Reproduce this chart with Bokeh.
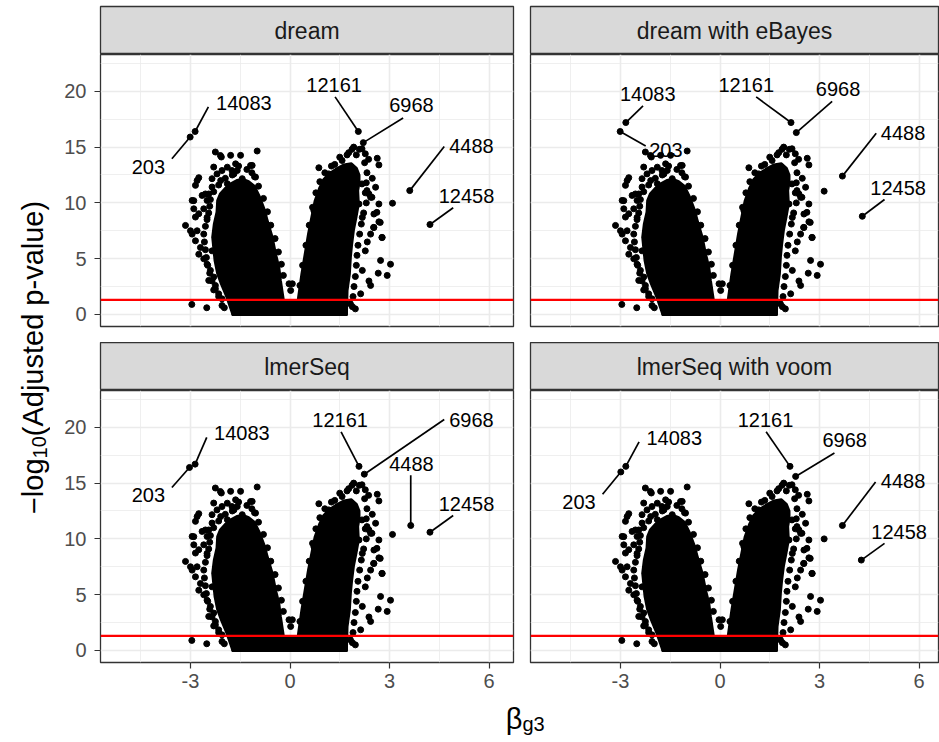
from bokeh.plotting import figure
from bokeh.layouts import row, column
from bokeh.models import Range1d, FixedTicker, Span
from bokeh.core.properties import value
from bokeh.embed import file_html
from bokeh.resources import INLINE

FONT = "Liberation Sans"

# ---------------- data ----------------
panel_names = ["dream", "dream with eBayes", "lmerSeq", "lmerSeq with voom"]
gene_ids = ["203", "14083", "12161", "6968", "4488", "12458"]

# labelled genes per method: effect (beta_g3) and -log10(adj p)
dream_beta = [-3.01, -2.86, 2.06, 2.21, 3.61, 4.22]
dream_logp = [15.9, 16.4, 16.4, 15.4, 11.1, 8.06]
ebayes_beta = [-3.01, -2.84, 2.14, 2.30, 3.69, 4.29]
ebayes_logp = [16.4, 17.2, 17.2, 16.3, 12.4, 8.8]
lmer_beta = [-3.03, -2.86, 2.08, 2.24, 3.64, 4.22]
lmer_logp = [16.4, 16.7, 16.5, 15.8, 11.2, 10.6]
voom_beta = [-2.99, -2.84, 2.11, 2.28, 3.69, 4.26]
voom_logp = [16.0, 16.5, 16.5, 15.6, 11.2, 8.1]

# repelled label positions (data units) and segment ends
dream_lab_x = [-4.27, -1.39, 1.33, 3.66, 5.47, 5.32]
dream_lab_y = [13.2, 18.93, 20.6, 18.8, 15.1, 10.66]
dream_seg_x = [-3.56, -2.46, 1.36, 3.41, 4.65, 4.92]
dream_seg_y = [13.95, 18.6, 19.5, 17.6, 15.05, 9.56]
ebayes_lab_x = [-1.63, -2.18, 0.79, 3.56, 5.52, 5.37]
ebayes_lab_y = [14.7, 19.8, 20.6, 20.2, 16.25, 11.35]
ebayes_seg_x = [-2.24, -2.32, 1.09, 3.38, 4.71, 4.96]
ebayes_seg_y = [15.1, 18.7, 19.5, 19.1, 16.25, 10.3]
lmer_lab_x = [-4.27, -1.45, 1.51, 5.47, 3.66, 5.32]
lmer_lab_y = [13.9, 19.5, 20.7, 20.7, 16.7, 13.1]
lmer_seg_x = [-3.56, -2.51, 1.54, 4.65, 3.64, 4.92]
lmer_seg_y = [14.6, 19.1, 19.6, 20.7, 15.7, 12.1]
voom_lab_x = [-4.25, -1.38, 1.37, 3.76, 5.52, 5.40]
voom_lab_y = [13.3, 19.0, 20.7, 18.9, 15.2, 10.6]
voom_seg_x = [-3.54, -2.44, 1.39, 3.45, 4.69, 4.96]
voom_seg_y = [14.0, 18.7, 19.6, 17.7, 15.1, 9.6]

# one unlabelled outlier per method
extra_beta = [3.09, 3.14, 3.09, 3.14]
extra_logp = [9.97, 11.05, 10.4, 10.0]

# saturated core of the volcano (outline of the overlapping point mass)
core_left_x = [-1.72, -1.9, -2.07, -2.18, -2.26, -2.3, -2.33, -2.28, -2.2, -2.18, -2.1,
               -1.95, -1.78, -1.6, -1.42, -1.25, -1.08, -0.93, -0.79, -0.69, -0.54,
               -0.44, -0.34, -0.29, -0.23, -0.17, -0.14]
core_left_y = [0.0, 1.55, 2.75, 3.65, 4.84, 6.04, 6.93, 8.13, 9.18, 10.2, 10.8,
               11.3, 11.7, 12.0, 12.1, 11.9, 11.5, 10.6, 9.5, 8.43, 6.93,
               5.44, 4.25, 3.05, 1.85, 0.66, 0.0]
core_right_x = [0.2, 0.26, 0.36, 0.46, 0.56, 0.66, 0.76, 0.89, 1.02, 1.18, 1.38,
                1.62, 1.85, 2.0, 2.08, 2.08, 2.04, 2.06, 1.99, 1.91, 1.86, 1.82, 1.79,
                1.72, 1.7]
core_right_y = [0.0, 1.55, 3.65, 5.44, 7.23, 8.73, 10.2, 11.3, 12.1, 12.6, 13.0,
                13.4, 13.5, 13.1, 12.5, 11.8, 11.1, 9.9, 8.73, 7.53, 6.34, 5.14, 3.65,
                2.15, 0.0]
core_base_x = [-1.72, 1.7, 1.7, -1.72]
core_base_y = [0.0, 0.0, 1.2, 1.2]

# scattered genes around the core
cloud_beta = [
    # left arm, upper part
    -2.25, -2.07, -1.79, -1.49, -0.99, -1.14, -1.04, -2.30, -2.35, -2.20, -2.05, -1.89,
    -1.64, -1.59, -1.74, -1.44, -1.54, -1.39, -1.24, -1.89, -2.09, -2.35, -2.45, -2.80,
    -2.85, -2.75, -2.95, -2.90, -2.75, -2.85, -2.65, -2.50, -2.60, -2.10, -1.69, -1.19,
    -1.07, -2.90, -2.55,
    # left arm, lower part
    -3.15, -2.95, -2.80, -2.85, -2.70, -2.75, -2.60, -2.50, -2.40, -2.30, -2.45, -2.25,
    -2.30, -2.15, -2.05, -2.96, -2.51, -1.98, -3.00, -2.50, -2.25, -2.35,
    # left arm, ragged outer edge
    -2.05, -2.15, -2.25, -2.35, -2.42, -2.48, -2.52, -2.55, -2.58, -2.60, -2.55, -2.50,
    -2.45, -2.42, -2.40, -2.30, -2.15, -1.95, -1.75, -1.55, -1.30, -1.15,
    # left arm, ragged inner edge
    -0.95, -0.80, -0.68, -0.58, -0.45, -0.35, -0.26, -0.20,
    # V notch
    -0.03, 0.07, 0.02,
    # right arm, ragged inner edge
    0.30, 0.38, 0.48, 0.58, 0.68, 0.78, 0.90, 1.05, 1.25,
    # right arm, ragged outer edge
    1.50, 1.72, 2.00, 2.25, 2.32, 2.30, 2.27, 2.30, 2.22, 2.15, 2.10, 2.05,
    2.02, 2.00, 1.97, 1.93, 1.90, 1.88,
    # right arm, scattered
    0.87, 1.35, 1.17, 1.07, 0.97, 1.57, 1.77, 1.87, 2.09, 2.27, 2.37, 2.63,
    2.68, 2.48, 2.58, 2.38, 2.43, 2.68, 2.53, 2.68, 2.53, 2.78, 2.33, 2.43,
    2.27, 2.73, 3.03, 2.66, 2.93, 2.43, 2.38, 2.18, 2.13, 1.97, 1.82, 2.18,
    2.08, 1.92, 2.17, 2.62, 2.72, 2.52, 2.77, 2.47, 2.32, 1.52, 1.12, 0.92,
    0.72, 2.17, 1.92]
cloud_logp = [
    14.56, 14.11, 14.26, 14.26, 14.65, 13.36, 12.31, 13.21, 12.17, 12.6, 12.9, 13.2,
    13.5, 12.9, 12.5, 12.17, 11.72, 11.42, 11.12, 11.72, 12.0, 11.42, 10.8, 12.0,
    11.57, 12.26, 10.22, 9.47, 9.03, 8.73, 10.67, 10.22, 9.47, 14.25, 12.6, 13.35,
    12.35, 10.2, 10.8,
    7.98, 7.2, 7.5, 6.6, 6.0, 5.4, 4.99, 4.5, 3.95, 3.35, 3.05, 2.6,
    2.2, 1.85, 1.4, 0.9, 0.6, 0.6, 7.5, 8.7, 6.9, 5.7,
    0.8, 1.6, 2.3, 3.0, 3.7, 4.4, 5.1, 5.8, 6.5, 7.2, 7.9, 8.5,
    9.1, 9.7, 10.3, 11.0, 11.6, 12.2, 12.9, 13.3, 13.0, 12.7,
    11.5, 10.4, 9.2, 8.0, 6.8, 5.6, 4.5, 3.5,
    2.75, 2.75, 2.15,
    2.6, 4.4, 6.2, 8.0, 9.6, 10.9, 11.9, 12.7, 13.3,
    14.1, 14.3, 14.3, 13.6, 12.7, 11.8, 10.9, 10.0, 9.1, 8.1, 7.2, 6.2,
    5.3, 4.4, 3.4, 2.5, 1.6, 0.7,
    13.15, 13.45, 12.6, 11.4, 10.5, 13.8, 14.5, 14.8, 14.8, 14.4, 13.9, 14.0,
    13.4, 12.2, 11.4, 10.8, 10.5, 9.9, 9.0, 8.3, 7.8, 6.9, 6.5, 7.2,
    5.7, 4.84, 4.5, 3.7, 3.5, 2.6, 3.0, 3.95, 1.85, 0.5, 0.96, 8.7,
    9.9, 15.0, 14.85, 9.15, 8.25, 7.8, 6.9, 10.5, 11.1, 12.6, 11.4, 10.8,
    9.3, 11.7, 12.9]

signif_cutoff = 1.30103  # -log10(0.05)

x_ticks = [-3, 0, 3, 6]
x_minor = [-4.5, -1.5, 1.5, 4.5]
y_ticks = [0, 5, 10, 15, 20]
y_minor = [2.5, 7.5, 12.5, 17.5, 22.5]

panels = [
    (dream_beta, dream_logp, dream_lab_x, dream_lab_y, dream_seg_x, dream_seg_y),
    (ebayes_beta, ebayes_logp, ebayes_lab_x, ebayes_lab_y, ebayes_seg_x, ebayes_seg_y),
    (lmer_beta, lmer_logp, lmer_lab_x, lmer_lab_y, lmer_seg_x, lmer_seg_y),
    (voom_beta, voom_logp, voom_lab_x, voom_lab_y, voom_seg_x, voom_seg_y),
]

# ---------------- layout constants ----------------
LEFT_FW, RIGHT_FW = 413, 408
FH, STRIP_H = 272, 48
BOTTOM_B = 35
XT_H = 742 - (6 + STRIP_H + FH + 16 + STRIP_H + FH + BOTTOM_B)
X_LO = -5.713
LEFT_XHI, RIGHT_XHI = 6.738, 6.587
Y_RANGE = (-1.08, 23.3)
TICK_COL = "#4D4D4D"
BORDER = "#333333"
DOT = 6


def strip(name, left_col, top_row):
    s = figure(frame_width=LEFT_FW if left_col else RIGHT_FW, frame_height=STRIP_H,
               width=(50 + LEFT_FW + 9) if left_col else (8 + RIGHT_FW + 1),
               height=STRIP_H + (6 if top_row else 0),
               x_range=Range1d(0, 1), y_range=Range1d(0, 1),
               x_axis_location=None, y_axis_location=None,
               output_backend="svg", toolbar_location=None, title=None,
               min_border_left=50 if left_col else 8, min_border_right=9 if left_col else 1,
               min_border_top=6 if top_row else 0, min_border_bottom=0)
    s.xgrid.visible = False
    s.ygrid.visible = False
    s.background_fill_color = "#D9D9D9"
    s.border_fill_color = "white"
    s.outline_line_color = BORDER
    s.outline_line_width = 1.3
    s.text(x=[0.5], y=[0.5], text=[name], text_font=value(FONT), text_font_size="23px",
           text_color="#1A1A1A", text_align="center", text_baseline="middle")
    return s


def panel(idx, left_col, bottom_row):
    beta, logp, lab_x, lab_y, seg_x, seg_y = panels[idx]
    fw = LEFT_FW if left_col else RIGHT_FW
    bl = 50 if left_col else 8
    br = 9 if left_col else 1
    bb = BOTTOM_B if bottom_row else 16
    p = figure(frame_width=fw, frame_height=FH, width=bl + fw + br, height=FH + bb,
               x_range=Range1d(X_LO, LEFT_XHI if left_col else RIGHT_XHI),
               y_range=Range1d(*Y_RANGE),
               x_axis_location="below" if bottom_row else None,
               y_axis_location="left" if left_col else None,
               output_backend="svg", toolbar_location=None, title=None,
               min_border_left=bl, min_border_right=br, min_border_top=0, min_border_bottom=bb)
    p.background_fill_color = "white"
    p.border_fill_color = "white"
    p.outline_line_color = BORDER
    p.outline_line_width = 1.3

    p.xgrid.ticker = FixedTicker(ticks=x_ticks, minor_ticks=x_minor)
    p.ygrid.ticker = FixedTicker(ticks=y_ticks, minor_ticks=y_minor)
    for g in (p.xgrid, p.ygrid):
        g.grid_line_color = "#EBEBEB"
        g.grid_line_width = 1.6
        g.minor_grid_line_color = "#EBEBEB"
        g.minor_grid_line_width = 0.8

    for ax, ticks, minor in ((p.xaxis, x_ticks, x_minor), (p.yaxis, y_ticks, y_minor)):
        if len(ax) == 0:
            continue
        ax.ticker = FixedTicker(ticks=ticks, minor_ticks=minor)
        ax.major_label_overrides = {t: str(t) for t in ticks}
        ax.axis_line_color = None
        ax.major_tick_line_color = BORDER
        ax.major_tick_line_width = 1.2
        ax.major_tick_out = 6
        ax.major_tick_in = 0
        ax.minor_tick_line_color = None
        ax.major_label_text_font = FONT
        ax.major_label_text_font_size = "20px"
        ax.major_label_text_color = TICK_COL
    if len(p.yaxis):
        p.yaxis.major_label_standoff = 8
    if len(p.xaxis):
        p.xaxis.major_label_standoff = 5

    # saturated core + scattered genes
    p.patches(xs=[core_left_x, core_right_x, core_base_x],
              ys=[core_left_y, core_right_y, core_base_y],
              fill_color="black", line_color="black", line_width=3, line_join="round")
    p.scatter(cloud_beta, cloud_logp, size=DOT, color="black")
    p.scatter([extra_beta[idx]], [extra_logp[idx]], size=DOT, color="black")
    p.scatter(beta, logp, size=DOT, color="black")

    p.add_layout(Span(location=signif_cutoff, dimension="width", line_color="red", line_width=2.2))

    p.segment(x0=beta, y0=logp, x1=seg_x, y1=seg_y, line_color="black", line_width=1.7)
    p.text(x=lab_x, y=lab_y, text=gene_ids, text_font=value(FONT), text_font_size="20px",
           text_color="black", text_align="center", text_baseline="middle")
    return p


left_col = column(strip(panel_names[0], True, True), panel(0, True, False),
                  strip(panel_names[2], True, False), panel(2, True, True), spacing=0)
right_col = column(strip(panel_names[1], False, True), panel(1, False, False),
                   strip(panel_names[3], False, False), panel(3, False, True), spacing=0)

COL_H = 742 - XT_H

# y axis title (rotated, with subscript)
yt = figure(width=50, height=COL_H, frame_width=50, frame_height=COL_H,
            x_range=Range1d(0, 50), y_range=Range1d(0, COL_H),
            x_axis_location=None, y_axis_location=None, title=None,
            output_backend="svg", toolbar_location=None,
            min_border_left=0, min_border_right=0, min_border_top=0, min_border_bottom=0)
yt.xgrid.visible = False
yt.ygrid.visible = False
yt.outline_line_color = None
TS, SS = 29, 20
w_minus_log = 1.918 * TS
w_sub = 2 * 0.556 * SS
w_rest = 8.114 * TS
centre = COL_H - 357
start = centre - (w_minus_log + w_sub + w_rest) / 2
yt.text(x=[33], y=[start], text=["\u2212log"], angle=1.5708, text_font=value(FONT),
        text_font_size=f"{TS}px", text_color="black", text_align="left", text_baseline="alphabetic")
yt.text(x=[39], y=[start + w_minus_log], text=["10"], angle=1.5708, text_font=value(FONT),
        text_font_size=f"{SS}px", text_color="black", text_align="left", text_baseline="alphabetic")
yt.text(x=[33], y=[start + w_minus_log + w_sub], text=["(Adjusted p-value)"], angle=1.5708,
        text_font=value(FONT), text_font_size=f"{TS}px", text_color="black",
        text_align="left", text_baseline="alphabetic")

# x axis title
xt = figure(width=939, height=XT_H, frame_width=939, frame_height=XT_H,
            x_range=Range1d(0, 939), y_range=Range1d(0, XT_H),
            x_axis_location=None, y_axis_location=None, title=None,
            output_backend="svg", toolbar_location=None,
            min_border_left=0, min_border_right=0, min_border_top=0, min_border_bottom=0)
xt.xgrid.visible = False
xt.ygrid.visible = False
xt.outline_line_color = None
xt.text(x=[522], y=[742 - 718], text=["\u03b2"], text_font=value(FONT), text_font_size=f"{TS}px",
        text_color="black", text_align="right", text_baseline="alphabetic")
xt.text(x=[522], y=[742 - 723], text=["g3"], text_font=value(FONT), text_font_size=f"{SS}px",
        text_color="black", text_align="left", text_baseline="alphabetic")

layout = column(row(yt, left_col, right_col, spacing=0), xt, spacing=0)

open("out.html", "w").write(file_html(layout, INLINE))
